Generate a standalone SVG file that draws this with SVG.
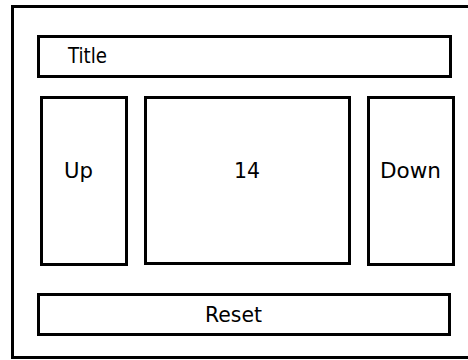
<svg xmlns="http://www.w3.org/2000/svg" width="468" height="360" viewBox="0 0 468 360">
  <style>
    .box { fill: #ffffff; stroke: #000000; stroke-width: 3; }
    .lbl { font-family: "DejaVu Sans", "Liberation Sans", sans-serif; font-size: 22px; fill: #000000; }
  </style>
  <rect width="468" height="360" fill="#ffffff"/>
  <!-- outer panel -->
  <g id="panel">
    <rect class="box" x="12.5" y="6.5" width="470" height="351"/>
  </g>
  <g id="title">
    <rect class="box" x="38.5" y="36.5" width="412" height="40"/>
    <text class="lbl" x="68" y="63" textLength="39" lengthAdjust="spacingAndGlyphs">Title</text>
  </g>
  <g id="up">
    <rect class="box" x="41.5" y="97.5" width="85" height="167"/>
    <text class="lbl" x="64" y="178" textLength="29" lengthAdjust="spacingAndGlyphs">Up</text>
  </g>
  <g id="value">
    <rect class="box" x="145.5" y="97.5" width="204" height="166"/>
    <text class="lbl" x="234" y="178" textLength="26" lengthAdjust="spacingAndGlyphs">14</text>
  </g>
  <g id="down">
    <rect class="box" x="368.5" y="97.5" width="85" height="167"/>
    <text class="lbl" x="380" y="178" textLength="61" lengthAdjust="spacingAndGlyphs">Down</text>
  </g>
  <g id="reset">
    <rect class="box" x="38.5" y="294.5" width="411" height="40"/>
    <text class="lbl" x="205" y="322" textLength="57" lengthAdjust="spacingAndGlyphs">Reset</text>
  </g>
  <g id="connectors"/>
</svg>
